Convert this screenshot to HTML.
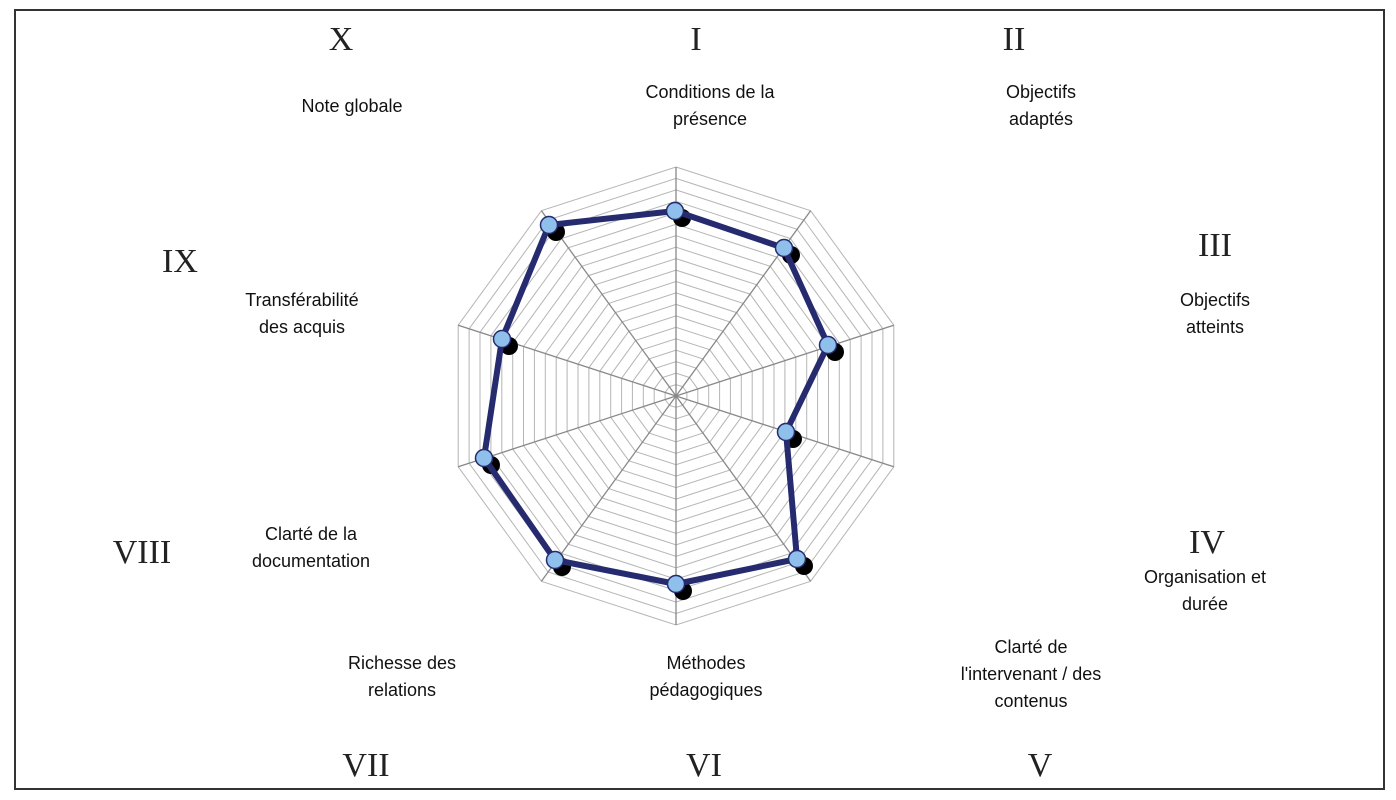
<!DOCTYPE html>
<html><head><meta charset="utf-8"><style>
html,body{margin:0;padding:0;background:#fff;}
body{width:1396px;height:800px;position:relative;overflow:hidden;font-family:"Liberation Sans",sans-serif;}
.box{position:absolute;left:14px;top:9px;width:1367px;height:777px;border:2px solid #333;}
.r{position:absolute;font-family:"Liberation Serif",serif;font-size:34px;color:#222;transform:translate(-50%,-50%);white-space:nowrap;}
.l{position:absolute;font-size:18px;line-height:27px;color:#111;transform:translateX(-50%);text-align:center;white-space:nowrap;}
svg{position:absolute;left:0;top:0;}
</style></head><body>
<div class="box"></div>
<svg id="s" width="1396" height="800"></svg>
<div class="r" style="left:341px;top:40px">X</div>
<div class="r" style="left:696px;top:40px">I</div>
<div class="r" style="left:1014px;top:40px">II</div>
<div class="r" style="left:1215px;top:246px">III</div>
<div class="r" style="left:180px;top:262px">IX</div>
<div class="r" style="left:1207px;top:543px">IV</div>
<div class="r" style="left:142px;top:553px">VIII</div>
<div class="r" style="left:366px;top:766px">VII</div>
<div class="r" style="left:704px;top:766px">VI</div>
<div class="r" style="left:1040px;top:766px">V</div>
<div class="l" style="left:710px;top:79px">Conditions de la<br>présence</div>
<div class="l" style="left:1041px;top:79px">Objectifs<br>adaptés</div>
<div class="l" style="left:352px;top:93px">Note globale</div>
<div class="l" style="left:1215px;top:287px">Objectifs<br>atteints</div>
<div class="l" style="left:302px;top:287px">Transférabilité<br>des acquis</div>
<div class="l" style="left:311px;top:521px">Clarté de la<br>documentation</div>
<div class="l" style="left:1205px;top:564px">Organisation et<br>durée</div>
<div class="l" style="left:1031px;top:634px">Clarté de<br>l'intervenant / des<br>contenus</div>
<div class="l" style="left:706px;top:650px">Méthodes<br>pédagogiques</div>
<div class="l" style="left:402px;top:650px">Richesse des<br>relations</div>
<script>
var s=document.getElementById('s'),cx=676,cy=396,R=229,h='';
for(var k=1;k<=20;k++){var r=R*k/20,p=[];for(var i=0;i<10;i++){var a=i*Math.PI/5;p.push((cx+r*Math.sin(a)).toFixed(1)+','+(cy-r*Math.cos(a)).toFixed(1));}
h+='<polygon points="'+p.join(' ')+'" fill="none" stroke="#b5b5b5" stroke-width="1"/>';}
for(var i=0;i<10;i++){var a=i*Math.PI/5;h+='<line x1="'+cx+'" y1="'+cy+'" x2="'+(cx+R*Math.sin(a))+'" y2="'+(cy-R*Math.cos(a))+'" stroke="#888" stroke-width="1.3"/>';}
var d=[[675,211],[784,248],[828,345],[786,432],[797,559],[676,584],[555,560],[484,458],[502,339],[549,225]];
var pts=d.map(function(q){return q.join(',')}).join(' ');
d.forEach(function(q){h+='<circle cx="'+(q[0]+7)+'" cy="'+(q[1]+7)+'" r="9" fill="#000"/>';});
h+='<polygon points="'+pts+'" fill="none" stroke="#262b70" stroke-width="6" stroke-linejoin="round"/>';
d.forEach(function(q){h+='<circle cx="'+q[0]+'" cy="'+q[1]+'" r="8.5" fill="#8fc0ec" stroke="#262b70" stroke-width="1.5"/>';});
s.innerHTML=h;
</script>
</body></html>
